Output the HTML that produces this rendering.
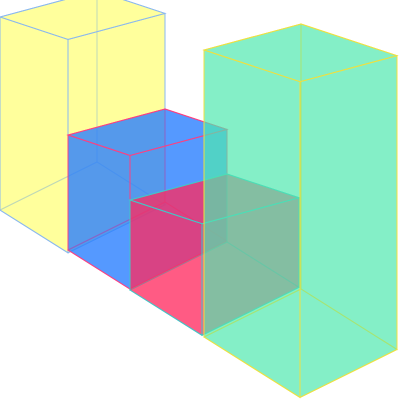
<!DOCTYPE html>
<html><head><meta charset="utf-8"><style>
html,body{margin:0;padding:0;background:#fff;}
svg{display:block;}
</style></head><body>
<svg id="chart" width="400" height="400" viewBox="0 0 400 400"></svg>
<script>
const categories = ["A","B","C","D"];
const values = [193, 115, 90, 287];
const fills = ["#ffff70","#2a80ff","#ff2a60","#4fe8b0"];
const strokes = ["#8ab8f0","#ff4080","#40c8c8","#f0e040"];
const opacities = [0.45, 0.55, 0.52, 0.45];

const svg = document.getElementById('chart');
const NS = 'http://www.w3.org/2000/svg';
const yScale = v => v * 1.0;
function basePos(i){ return [[0,210],[68,250],[130,290],[204,337]][i]; }
const frontW = [68,62,72,96];

categories.forEach((c,i)=>{
  const [bx,by] = basePos(i);
  const w = frontW[i];
  const h = yScale(values[i]);
  const p = (a,b,up)=>{
    const slope = up ? 0.33 : 0.63;
    const dy = up ? -26 : -48;
    return [bx + a*w + b*97, by + a*w*slope + b*dy - up*h];
  };
  const V = {
    fbl:p(0,0,0), fbr:p(1,0,0), bbl:p(0,1,0), bbr:p(1,1,0),
    ftl:p(0,0,1), ftr:p(1,0,1), btl:p(0,1,1), btr:p(1,1,1)
  };
  const faces = [
    ["back",["bbl","bbr","btr","btl"]],
    ["left",["fbl","bbl","btl","ftl"]],
    ["bottom",["fbl","fbr","bbr","bbl"]],
    ["right",["fbr","bbr","btr","ftr"]],
    ["top",["ftl","ftr","btr","btl"]],
    ["front",["fbl","fbr","ftr","ftl"]]
  ];
  const g = document.createElementNS(NS,'g');
  
  
  faces.forEach(([fn,pts])=>{
    const poly = document.createElementNS(NS,'polygon');
    poly.setAttribute('points', pts.map(k=>V[k].join(',')).join(' '));
    poly.setAttribute('fill', fills[i]);
    poly.setAttribute('fill-opacity', opacities[i]);
    poly.setAttribute('stroke', strokes[i]);
    poly.setAttribute('stroke-width', '1');
    
    
    g.appendChild(poly);
  });
  svg.appendChild(g);
});
</script>
</body></html>
